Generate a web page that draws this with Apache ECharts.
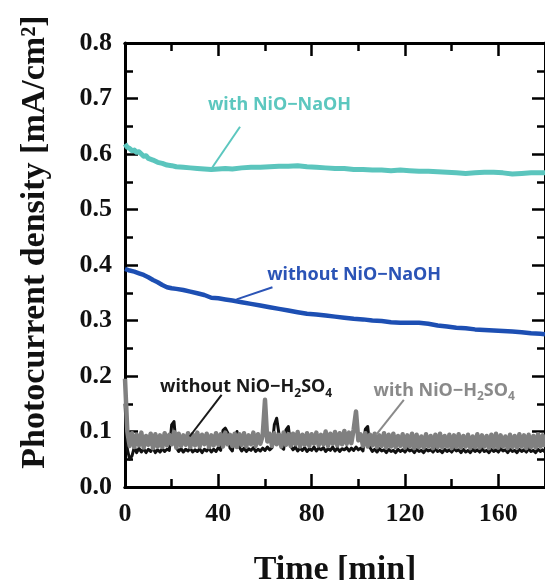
<!DOCTYPE html>
<html><head><meta charset="utf-8">
<script src="https://cdn.jsdelivr.net/npm/echarts@6/dist/echarts.min.js"></script>
<style>html,body{margin:0;padding:0;background:#fff}#c{width:545px;height:580px}</style>
</head><body><div id="c"></div>
<script>
// ---- data (time in min, photocurrent density in mA/cm2) ----
const naohWithTime = [0,1,2,3,4,5,6,7,8,9,10,12,14,16,18,20,22,25,28,31,34,37,40,43,46,50,54,58,62,66,70,74,78,82,86,90,94,98,102,106,110,114,118,122,126,130,134,138,142,146,150,154,158,162,166,170,174,178,180];
const naohWithVal = [0.618,0.612,0.610,0.606,0.607,0.603,0.604,0.600,0.596,0.597,0.592,0.589,0.585,0.583,0.580,0.579,0.577,0.576,0.575,0.574,0.573,0.572,0.573,0.574,0.573,0.575,0.576,0.576,0.577,0.578,0.578,0.579,0.577,0.576,0.575,0.574,0.574,0.572,0.572,0.571,0.571,0.570,0.571,0.570,0.569,0.569,0.568,0.567,0.566,0.565,0.566,0.567,0.567,0.566,0.564,0.565,0.566,0.566,0.566];

const naohWithoutTime = [0,2,4,6,8,10,12,14,16,18,20,22,25,28,31,34,37,40,43,46,50,54,58,62,66,70,74,78,82,86,90,94,98,102,106,110,114,118,122,126,130,134,138,142,146,150,154,158,162,166,170,174,178,180];
const naohWithoutVal = [0.393,0.390,0.388,0.385,0.382,0.378,0.373,0.369,0.364,0.360,0.358,0.357,0.355,0.352,0.349,0.346,0.341,0.340,0.338,0.336,0.333,0.330,0.327,0.324,0.321,0.318,0.315,0.312,0.311,0.309,0.307,0.305,0.303,0.302,0.300,0.299,0.297,0.296,0.296,0.296,0.294,0.291,0.289,0.287,0.286,0.284,0.283,0.282,0.281,0.280,0.279,0.277,0.276,0.275];

const h2so4Time = [0,1,2,3,4,5,6,7,8,9,10,11,12,13,14,15,16,17,18,19,20,21,22,23,24,25,26,27,28,29,30,31,32,33,34,35,36,37,38,39,40,41,42,43,44,45,46,47,48,49,50,51,52,53,54,55,56,57,58,59,60,61,62,63,64,65,66,67,68,69,70,71,72,73,74,75,76,77,78,79,80,81,82,83,84,85,86,87,88,89,90,91,92,93,94,95,96,97,98,99,100,101,102,103,104,105,106,107,108,109,110,111,112,113,114,115,116,117,118,119,120,121,122,123,124,125,126,127,128,129,130,131,132,133,134,135,136,137,138,139,140,141,142,143,144,145,146,147,148,149,150,151,152,153,154,155,156,157,158,159,160,161,162,163,164,165,166,167,168,169,170,171,172,173,174,175,176,177,178,179,180];

const h2so4WithVal = [0.195,0.100,0.074,0.097,0.072,0.094,0.075,0.098,0.071,0.092,
0.076,0.096,0.070,0.095,0.073,0.093,0.072,0.097,0.075,0.094,
0.077,0.099,0.071,0.096,0.074,0.093,0.076,0.097,0.072,0.095,
0.075,0.098,0.073,0.094,0.077,0.096,0.072,0.093,0.075,0.097,
0.076,0.095,0.073,0.098,0.077,0.094,0.074,0.096,0.072,0.095,
0.076,0.097,0.073,0.093,0.077,0.098,0.074,0.095,0.078,0.092,
0.157,0.082,0.096,0.074,0.097,0.077,0.094,0.073,0.098,0.076,
0.095,0.074,0.096,0.077,0.099,0.073,0.094,0.076,0.097,0.074,
0.095,0.078,0.098,0.075,0.094,0.077,0.100,0.074,0.096,0.078,
0.099,0.075,0.097,0.077,0.101,0.078,0.098,0.079,0.104,0.136,
0.084,0.095,0.074,0.097,0.073,0.094,0.075,0.096,0.072,0.093,
0.074,0.097,0.071,0.094,0.073,0.096,0.072,0.092,0.074,0.095,
0.071,0.093,0.073,0.096,0.070,0.094,0.072,0.091,0.071,0.095,
0.073,0.092,0.070,0.094,0.072,0.096,0.071,0.092,0.073,0.094,
0.070,0.093,0.072,0.095,0.071,0.092,0.073,0.094,0.070,0.091,
0.072,0.095,0.071,0.093,0.073,0.092,0.070,0.094,0.072,0.096,
0.071,0.093,0.073,0.091,0.070,0.094,0.072,0.092,0.071,0.095,
0.073,0.093,0.070,0.094,0.072,0.092,0.071,0.095,0.073,0.093,
0.072];

const h2so4WithoutVal = [0.150,0.068,0.050,0.056,0.072,0.062,0.070,0.063,0.069,0.062,
0.068,0.064,0.070,0.062,0.067,0.063,0.069,0.064,0.068,0.066,
0.112,0.118,0.071,0.064,0.069,0.063,0.068,0.065,0.070,0.063,
0.067,0.064,0.069,0.062,0.068,0.065,0.070,0.063,0.068,0.064,
0.071,0.066,0.102,0.106,0.098,0.070,0.065,0.090,0.100,0.072,
0.065,0.070,0.064,0.069,0.066,0.071,0.064,0.068,0.065,0.070,
0.066,0.072,0.067,0.071,0.112,0.124,0.095,0.072,0.068,0.103,
0.109,0.074,0.067,0.072,0.065,0.070,0.066,0.071,0.064,0.069,
0.066,0.072,0.065,0.070,0.067,0.071,0.064,0.069,0.066,0.072,
0.065,0.070,0.064,0.069,0.067,0.071,0.065,0.070,0.066,0.072,
0.067,0.070,0.065,0.104,0.109,0.071,0.064,0.068,0.063,0.069,
0.065,0.067,0.062,0.068,0.064,0.066,0.062,0.068,0.064,0.067,
0.063,0.069,0.065,0.067,0.062,0.068,0.064,0.066,0.062,0.068,
0.065,0.067,0.063,0.069,0.064,0.066,0.062,0.068,0.064,0.067,
0.063,0.069,0.065,0.067,0.062,0.068,0.063,0.066,0.062,0.068,
0.064,0.067,0.063,0.069,0.064,0.066,0.062,0.068,0.064,0.067,
0.063,0.069,0.065,0.067,0.062,0.068,0.064,0.066,0.062,0.068,
0.064,0.067,0.063,0.069,0.064,0.066,0.062,0.068,0.064,0.067,
0.063];

const yTicks = [0.0,0.1,0.2,0.3,0.4,0.5,0.6,0.7,0.8];
const xTicks = [0,40,80,120,160];

// annotation anchors in data units
const annotations = [
  {rich:'{a|with NiO−NaOH}', color:'#5cc7bf', at:[66.2,0.688], from:[49.3,0.649], to:[36.3,0.569]},
  {rich:'{a|without NiO−NaOH}', color:'#2b54b6', at:[98.2,0.382], from:[63.2,0.360], to:[47.8,0.338]},
  {rich:'{a|without NiO−H}{s|2}{a|SO}{s|4}', color:'#1a1a1a', at:[51.9,0.180], from:[41.4,0.166], to:[27.7,0.091]},
  {rich:'{a|with NiO−H}{s|2}{a|SO}{s|4}', color:'#8a8a8a', at:[136.8,0.174], from:[119.5,0.157], to:[107.6,0.094]}
];

function pairs(t, v){ return t.map((x,i)=>[x, v[i]]); }

const chart = echarts.init(document.getElementById('c'), null, {renderer:'canvas'});
const serif = 'Liberation Serif';
const axisLine = {onZero:false, lineStyle:{color:'#000', width:3}};
function xAx(pos, interval, len, labels){
  return {type:'value', min:0, max:180, interval:interval, position:pos,
    axisLine: axisLine,
    axisTick:{show:true, inside:true, length:len, lineStyle:{color:'#000', width:2.5}},
    axisLabel:{show:labels, margin:14, fontFamily:serif, fontWeight:'bold', fontSize:26, color:'#111', showMaxLabel:false,
      formatter:(v)=> xTicks.indexOf(v)>=0 ? String(v) : ''},
    splitLine:{show:false}};
}
function yAx(pos, labels){
  return {type:'value', min:0, max:0.8, interval:0.1, position:pos,
    axisLine: axisLine,
    axisTick:{show:true, inside:true, length:13, lineStyle:{color:'#000', width:2.5}},
    minorTick:{show:true, splitNumber:2, length:8, lineStyle:{color:'#000', width:2.5}},
    axisLabel:{show:labels, margin:13, fontFamily:serif, fontWeight:'bold', fontSize:26, color:'#111',
      formatter:(v)=> { const k = yTicks.findIndex(t=>Math.abs(t-v)<1e-9); return k>=0 ? yTicks[k].toFixed(1) : ''; }},
    splitLine:{show:false}};
}

const option = {
  animation:false,
  backgroundColor:'#fff',
  grid:{left:125, right:-3, top:43, bottom:93, containLabel:false},
  xAxis:[xAx('bottom',40,13,true), xAx('bottom',20,8,false), xAx('top',40,13,false), xAx('top',20,8,false)],
  yAxis:[yAx('left',true), yAx('right',false)],
  series:[
    {name:'without NiO-H2SO4', type:'line', showSymbol:false, data:pairs(h2so4Time,h2so4WithoutVal), lineStyle:{color:'#111', width:3, join:'round'}, z:2},
    {name:'with NiO-H2SO4', type:'line', showSymbol:false, data:pairs(h2so4Time,h2so4WithVal), lineStyle:{color:'#808080', width:4.5, join:'round'}, z:3},
    {name:'without NiO-NaOH', type:'line', showSymbol:false, data:pairs(naohWithoutTime,naohWithoutVal), lineStyle:{color:'#1d4fb3', width:4.5, join:'round'}, z:4},
    {name:'with NiO-NaOH', type:'line', showSymbol:false, data:pairs(naohWithTime,naohWithVal), lineStyle:{color:'#5bc5bd', width:5, join:'round'}, z:5}
  ]
};
chart.setOption(option);

const px = (p)=> chart.convertToPixel({xAxisIndex:0, yAxisIndex:0}, p);
const graphics = [];
annotations.forEach((a)=>{
  const c = px(a.at), f = px(a.from), t = px(a.to);
  graphics.push({type:'line', shape:{x1:f[0], y1:f[1], x2:t[0], y2:t[1]}, style:{stroke:a.color, lineWidth:2}, z:10});
  graphics.push({type:'text', x:c[0], y:c[1], z:10, style:{text:a.rich, align:'center', verticalAlign:'middle',
    rich:{a:{fontFamily:'Noto Sans', fontWeight:'bold', fontSize:18, fill:a.color},
          s:{fontFamily:'Noto Sans', fontWeight:'bold', fontSize:12, fill:a.color, padding:[12,0,0,0]}}}});
});
graphics.push({type:'text', x:35, y:242, rotation:Math.PI/2, z:10,
  style:{text:'Photocurrent density [mA/cm²]', align:'center', verticalAlign:'middle',
    font:'bold 34px "Liberation Serif"', fill:'#111'}});
graphics.push({type:'text', x:335, y:570, z:10,
  style:{text:'Time [min]', align:'center', verticalAlign:'middle',
    font:'bold 34px "Liberation Serif"', fill:'#111'}});
chart.setOption({graphic:graphics});
</script></body></html>
